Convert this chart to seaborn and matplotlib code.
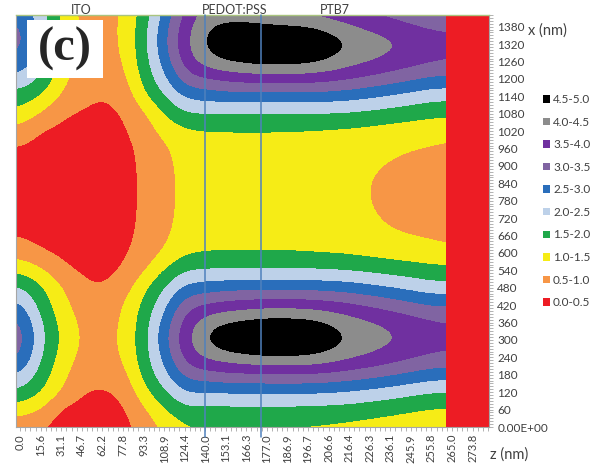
import matplotlib
matplotlib.use("Agg")
import numpy as np
import matplotlib.pyplot as plt
from matplotlib.patches import Patch, Rectangle
from matplotlib.colors import ListedColormap, BoundaryNorm
from matplotlib.ticker import MultipleLocator
import seaborn as sns

sns.set_theme(style="ticks")
plt.rcParams["font.family"] = ["Lato", "DejaVu Sans"]

# bottom axis: z (nm), one label per category slot
z_labels = ["0.0", "15.6", "31.1", "46.7", "62.2", "77.8", "93.3", "108.9", "124.4",
            "140.0", "153.1", "166.3", "177.0", "186.9", "196.7", "206.6", "216.4",
            "226.3", "236.1", "245.9", "255.8", "265.0", "273.8"]

# right axis: x (nm)
y_ticks = [0, 60, 120, 180, 240, 300, 360, 420, 480, 540, 600, 660, 720, 780, 840,
           900, 960, 1020, 1080, 1140, 1200, 1260, 1320, 1380]
y_labels = ["0.00E+00"] + [str(v) for v in y_ticks[1:]]

# grid rows (x, nm); grid columns sit on category slots 0..21
x_nm = [0, 60, 120, 180, 240, 300, 360, 420, 480, 540, 600, 660, 720, 780, 840,
        900, 960, 1020, 1080, 1140, 1200, 1260, 1320, 1380, 1440]

field = [
    [0.65, 1.23, 1.92, 2.5, 3.1, 3.3, 3.15, 2.64, 2.07, 1.38, 0.8, 0.45, 0.35, 0.3, 0.3, 0.33, 0.45, 0.86, 1.37, 1.8, 2.39, 2.88, 3.2, 3.1, 2.75],
    [0.52, 1.02, 1.52, 1.8, 2.02, 2.15, 2.05, 1.8, 1.6, 1.1, 0.53, 0.35, 0.28, 0.25, 0.25, 0.28, 0.35, 0.45, 1.0, 1.5, 2.0, 2.25, 2.35, 2.35, 2.2],
    [0.3, 0.38, 0.98, 1.15, 1.3, 1.42, 1.35, 1.2, 1.03, 0.62, 0.4, 0.3, 0.25, 0.22, 0.22, 0.25, 0.3, 0.4, 0.55, 0.95, 1.15, 1.3, 1.38, 1.4, 1.35],
    [0.25, 0.35, 0.48, 0.7, 0.85, 0.92, 0.88, 0.75, 0.58, 0.42, 0.3, 0.25, 0.2, 0.2, 0.2, 0.22, 0.28, 0.35, 0.45, 0.6, 0.75, 0.85, 0.9, 0.9, 0.85],
    [0.3, 0.38, 0.46, 0.58, 0.72, 0.8, 0.75, 0.62, 0.49, 0.4, 0.33, 0.3, 0.28, 0.27, 0.27, 0.28, 0.32, 0.38, 0.44, 0.49, 0.6, 0.72, 0.8, 0.82, 0.8],
    [0.3, 0.4, 0.52, 0.8, 1.02, 1.06, 1.04, 0.99, 0.7, 0.5, 0.42, 0.38, 0.36, 0.35, 0.35, 0.36, 0.38, 0.42, 0.47, 0.62, 0.82, 0.97, 1.02, 1.02, 1.0],
    [0.72, 0.9, 1.35, 1.62, 1.75, 1.8, 1.75, 1.6, 1.4, 0.92, 0.68, 0.6, 0.57, 0.56, 0.56, 0.57, 0.6, 0.72, 0.92, 1.42, 1.65, 1.78, 1.82, 1.8, 1.68],
    [1.05, 1.48, 1.9, 2.35, 2.65, 2.85, 2.7, 2.35, 1.98, 1.52, 1.05, 0.92, 0.9, 0.9, 0.9, 0.9, 0.93, 1.18, 1.52, 1.98, 2.38, 2.72, 2.9, 2.8, 2.55],
    [1.45, 1.87, 2.53, 3.16, 3.68, 3.85, 3.72, 3.33, 2.64, 1.98, 1.42, 1.2, 1.12, 1.1, 1.1, 1.12, 1.2, 1.42, 1.98, 2.63, 3.32, 3.75, 3.9, 3.78, 3.55],
    [1.47, 1.85, 2.5, 3.3, 4.1, 4.55, 4.3, 3.55, 2.75, 2.02, 1.5, 1.25, 1.2, 1.18, 1.18, 1.2, 1.25, 1.49, 2.0, 2.72, 3.52, 4.3, 4.58, 4.45, 4.1],
    [1.47, 1.85, 2.53, 3.4, 4.27, 4.98, 4.52, 3.7, 2.82, 2.02, 1.5, 1.28, 1.22, 1.2, 1.2, 1.22, 1.28, 1.49, 2.0, 2.8, 3.67, 4.55, 5.0, 4.6, 4.15],
    [1.47, 1.85, 2.54, 3.43, 4.4, 5.15, 4.65, 3.78, 2.84, 2.02, 1.5, 1.3, 1.22, 1.2, 1.2, 1.22, 1.3, 1.49, 2.0, 2.81, 3.75, 4.68, 5.2, 4.6, 4.1],
    [1.46, 1.85, 2.55, 3.45, 4.48, 5.25, 4.75, 3.83, 2.85, 2.02, 1.5, 1.3, 1.22, 1.2, 1.2, 1.22, 1.3, 1.49, 2.0, 2.82, 3.78, 4.75, 5.28, 4.55, 3.9],
    [1.45, 1.85, 2.55, 3.45, 4.48, 5.25, 4.75, 3.83, 2.85, 2.02, 1.5, 1.28, 1.21, 1.19, 1.19, 1.21, 1.28, 1.48, 2.0, 2.82, 3.78, 4.73, 5.25, 4.5, 3.8],
    [1.43, 1.84, 2.55, 3.45, 4.45, 5.15, 4.7, 3.8, 2.85, 2.02, 1.48, 1.25, 1.2, 1.18, 1.18, 1.2, 1.25, 1.47, 2.0, 2.82, 3.77, 4.68, 5.17, 4.45, 3.75],
    [1.4, 1.82, 2.5, 3.4, 4.3, 4.85, 4.5, 3.72, 2.8, 2.0, 1.45, 1.22, 1.16, 1.13, 1.13, 1.16, 1.22, 1.44, 1.98, 2.78, 3.7, 4.48, 4.87, 4.25, 3.65],
    [1.35, 1.78, 2.45, 3.3, 4.1, 4.45, 4.25, 3.6, 2.75, 1.95, 1.42, 1.2, 1.12, 1.08, 1.08, 1.12, 1.2, 1.41, 1.95, 2.72, 3.58, 4.23, 4.47, 4.05, 3.5],
    [1.3, 1.7, 2.35, 3.18, 3.93, 4.28, 4.08, 3.45, 2.62, 1.88, 1.36, 1.12, 1.03, 1.0, 1.0, 1.04, 1.14, 1.36, 1.88, 2.6, 3.43, 4.06, 4.3, 3.85, 3.4],
    [1.25, 1.62, 2.25, 3.05, 3.75, 4.08, 3.9, 3.3, 2.5, 1.8, 1.3, 1.04, 0.95, 0.92, 0.92, 0.97, 1.08, 1.3, 1.8, 2.48, 3.28, 3.88, 4.1, 3.7, 3.25],
    [1.2, 1.53, 2.12, 2.9, 3.58, 3.93, 3.75, 3.13, 2.36, 1.72, 1.25, 0.98, 0.87, 0.83, 0.83, 0.88, 1.02, 1.25, 1.71, 2.34, 3.12, 3.73, 3.95, 3.55, 3.1],
    [1.15, 1.45, 2.0, 2.75, 3.42, 3.78, 3.6, 2.97, 2.22, 1.63, 1.2, 0.93, 0.8, 0.75, 0.75, 0.8, 0.97, 1.2, 1.62, 2.2, 2.95, 3.58, 3.8, 3.4, 2.95],
    [1.1, 1.44, 1.97, 2.74, 3.39, 3.66, 3.51, 2.98, 2.19, 1.61, 1.17, 0.82, 0.72, 0.68, 0.68, 0.72, 0.9, 1.17, 1.59, 2.17, 2.94, 3.5, 3.68, 3.37, 2.9],
]

# metal electrode slab on the right (z slots) and its field value
slab_z = [20.7, 22.8]
slab_value = 0.2

levels = [0, 0.5, 1.0, 1.5, 2.0, 2.5, 3.0, 3.5, 4.0, 4.5, 10]
band_labels = ["0.0-0.5", "0.5-1.0", "1.0-1.5", "1.5-2.0", "2.0-2.5",
               "2.5-3.0", "3.0-3.5", "3.5-4.0", "4.0-4.5", "4.5-5.0"]
band_colors = ["#ed1c24", "#f79646", "#f6ec16", "#1fa84a", "#bdd1e9",
               "#2a6ebb", "#8064a2", "#7030a0", "#8c8c8c", "#000000"]

layers = ["ITO", "PEDOT:PSS", "PTB7"]
layer_lines = [9.0, 11.7]

cmap = ListedColormap(band_colors)
cmap.set_under(band_colors[0])
cmap.set_over(band_colors[-1])
norm = BoundaryNorm(levels, cmap.N)

fig = plt.figure(figsize=(5.95, 4.65), dpi=100)
ax = fig.add_axes([16 / 595, 38 / 465, 473 / 595, 412 / 465])

Z = np.array(field).T
dy = x_nm[1] - x_nm[0]
ax.imshow(Z, origin="lower", aspect="auto", cmap=cmap, norm=norm,
          interpolation="bicubic", interpolation_stage="data",
          extent=(-0.5, len(field) - 0.5, x_nm[0] - dy / 2, x_nm[-1] + dy / 2))
ax.pcolormesh(slab_z, [0, 1420], [[slab_value]], cmap=cmap, norm=norm, zorder=2)

for xv in layer_lines:
    ax.axvline(xv, ymin=-0.025, ymax=1, color="#4f81bd", lw=1.1, clip_on=False, zorder=3)

ax.set_xlim(-0.2, 22.8)
ax.set_ylim(0, 1420)
ax.set_xticks(range(len(z_labels)))
ax.set_xticklabels(z_labels, rotation=90, fontsize=8, color="#404040")
ax.yaxis.tick_right()
ax.set_yticks(y_ticks)
ax.set_yticklabels(y_labels, fontsize=8.5, color="#404040")
ax.xaxis.set_minor_locator(MultipleLocator(0.25))
ax.yaxis.set_minor_locator(MultipleLocator(10))
ax.tick_params(which="both", color="#a6a6a6", width=0.6)
ax.tick_params(axis="x", which="both", length=3, pad=2)
ax.tick_params(axis="y", which="both", length=3, pad=3)
for side in ["left", "bottom", "right"]:
    ax.spines[side].set_color("#a6a6a6")
    ax.spines[side].set_linewidth(0.8)
ax.spines["top"].set_color("#a9c47f")
ax.spines["top"].set_linewidth(1.0)

# panel tag
ax.add_patch(Rectangle((0.0233, 0.847), 0.1607, 0.141, transform=ax.transAxes,
                       facecolor="white", edgecolor="none", zorder=5))
ax.text(0.1036, 0.917, "(c)", transform=ax.transAxes, ha="center", va="center",
        fontsize=35, fontweight="bold", family="Liberation Serif", zorder=6)

for name, px in zip(layers, [81, 235, 335]):
    fig.text(px / 595, 1 - 10 / 465, name, ha="center", va="center",
             fontsize=9, color="#404040")

fig.text(528 / 595, 1 - 31 / 465, "x (nm)", ha="left", va="center", fontsize=10.5, color="#404040")
fig.text(490 / 595, 1 - 455 / 465, "z (nm)", ha="left", va="center", fontsize=10.5, color="#404040")

handles = [Patch(facecolor=c, edgecolor="none", label=l)
           for c, l in zip(band_colors[::-1], band_labels[::-1])]
fig.legend(handles=handles, loc="upper left", bbox_to_anchor=(543 / 595, 1 - 94 / 465),
           frameon=False, fontsize=8.5, handlelength=0.6, handleheight=0.6,
           handletextpad=0.25, labelspacing=0.98, borderpad=0, borderaxespad=0,
           labelcolor="#404040")

fig.savefig("out.png", dpi=100)
